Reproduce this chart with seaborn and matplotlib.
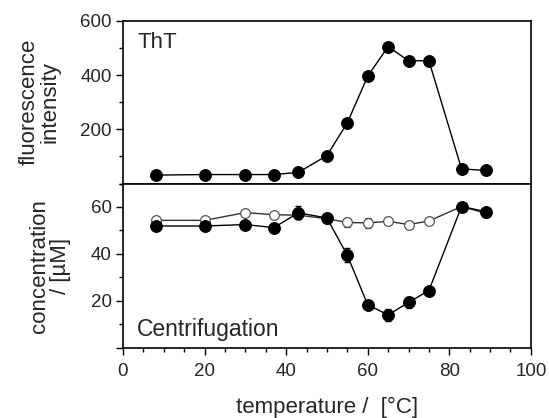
import matplotlib
matplotlib.use("Agg")
import matplotlib.pyplot as plt
import seaborn as sns
import pandas as pd
from matplotlib.ticker import MultipleLocator

# temperatures (deg C)
temperature = [8, 20, 30, 37, 43, 50, 55, 60, 65, 70, 75, 83, 89]

# ThT fluorescence
tht = [31, 33, 33, 33, 41, 103, 224, 396, 505, 453, 453, 54, 48]

# centrifugation: filled (supernatant) and open series, in uM
conc_filled = [51.9, 51.9, 52.5, 51.2, 57.5, 55.3, 39.4, 18.3, 14.0, 19.3, 24.4, 60.2, 58.0]
err_filled = [1.0, 0.8, 0.8, 0.8, 2.8, 1.0, 3.0, 1.0, 2.5, 2.2, 1.0, 1.0, 1.2]
conc_open = [54.3, 54.3, 57.6, 56.7, 56.5, 55.0, 53.4, 53.2, 53.9, 52.5, 54.0, 60.2, 57.3]
err_open = [0.8, 0.6, 0.8, 0.6, 0.6, 0.6, 1.8, 2.2, 1.0, 0.6, 0.8, 0.8, 0.8]

sns.set_theme(style="ticks")
plt.rcParams['font.family'] = ['Liberation Sans', 'DejaVu Sans']

df = pd.DataFrame({"temperature": temperature, "tht": tht,
                   "filled": conc_filled, "open": conc_open})

fig = plt.figure(figsize=(5.49, 4.18), dpi=100)
ax1 = fig.add_axes([0.224, 0.561, 0.743, 0.389])
ax2 = fig.add_axes([0.224, 0.168, 0.743, 0.393], sharex=ax1)

# top panel
sns.lineplot(data=df, x="temperature", y="tht", ax=ax1, color="black",
             linewidth=1.0, marker="o", markersize=8.5, markeredgecolor="black")
ax1.text(0.035, 0.87, "ThT", transform=ax1.transAxes, fontsize=16, va="center")
ax1.set_ylim(0, 600)
ax1.yaxis.set_major_locator(MultipleLocator(200))
ax1.yaxis.set_minor_locator(MultipleLocator(100))
ax1.set_ylabel("fluorescence\nintensity", fontsize=16, linespacing=1.0, labelpad=14)
ax1.tick_params(axis="x", which="both", bottom=False, labelbottom=False)
ax1.set_xlabel("")
ax1.set_yticks([200, 400, 600])

# bottom panel
ax2.errorbar(temperature, conc_open, yerr=err_open, fmt="none", ecolor="#333333",
             elinewidth=0.9, capsize=2.5, capthick=0.9, zorder=2)
sns.lineplot(data=df, x="temperature", y="open", ax=ax2, color="#333333",
             linewidth=1.0, marker="o", markersize=7, markerfacecolor="white",
             markeredgecolor="#555555", markeredgewidth=0.9, zorder=3)
ax2.errorbar(temperature, conc_filled, yerr=err_filled, fmt="none", ecolor="black",
             elinewidth=1.0, capsize=2.5, capthick=1.0, zorder=4)
sns.lineplot(data=df, x="temperature", y="filled", ax=ax2, color="black",
             linewidth=1.0, marker="o", markersize=8.5, markeredgecolor="black", zorder=5)
ax2.text(0.035, 0.11, "Centrifugation", transform=ax2.transAxes, fontsize=16.5, va="center")
ax2.set_ylim(0, 70)
ax2.set_yticks([0, 20, 40, 60])
ax2.set_yticklabels(["", "20", "40", "60"])
ax2.yaxis.set_minor_locator(MultipleLocator(10))
ax2.set_ylabel("concentration\n/ [\u00b5M]", fontsize=16, linespacing=1.0, labelpad=14)

ax2.set_xlim(0, 100)
ax2.xaxis.set_major_locator(MultipleLocator(20))
ax2.xaxis.set_minor_locator(MultipleLocator(5))
ax2.set_xlabel("temperature /  [\u00b0C]", fontsize=16, labelpad=12)

for ax in (ax1, ax2):
    for s in ax.spines.values():
        s.set_visible(True)
        s.set_linewidth(1.2)
        s.set_color("black")
    ax.tick_params(which="major", length=5, width=1.0, labelsize=13.5, color="black", pad=3)
    ax.tick_params(which="minor", length=3, width=1.0, color="black")
    ax.tick_params(axis="y", which="both", left=True)
    ax.set_facecolor("white")

ax2.tick_params(axis="x", which="both", bottom=True, direction="out", pad=6)

fig.savefig("out.png", dpi=100, facecolor="white")
